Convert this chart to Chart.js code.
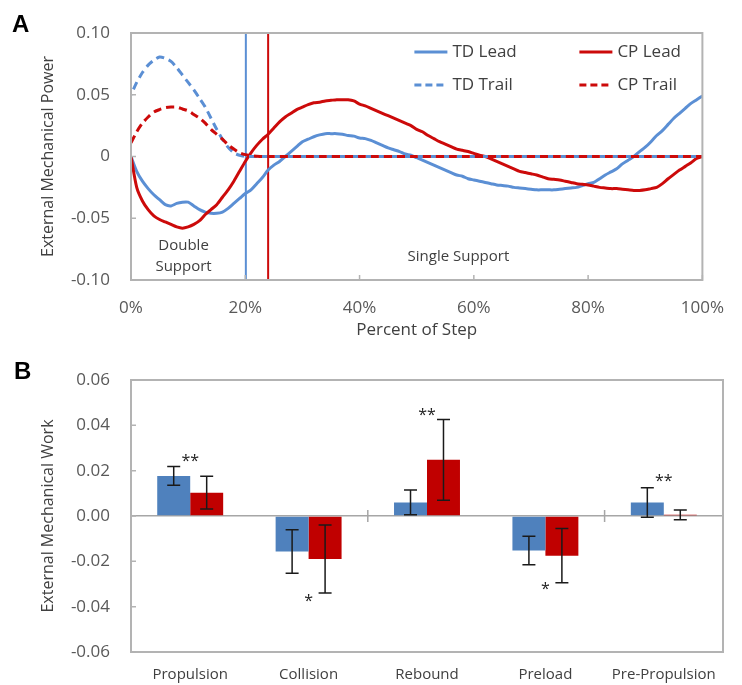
<!DOCTYPE html>
<html>
<head>
<meta charset="utf-8">
<title>External mechanical power and work</title>
<script src="https://cdn.jsdelivr.net/npm/chart.js@4.4.1/dist/chart.umd.min.js"></script>
<style>
  html, body { margin: 0; padding: 0; background: #fff; }
  #wrap { position: relative; width: 742px; height: 685px; overflow: hidden; }
  .panel { position: absolute; left: 0; width: 742px; }
  #pa { top: 0; height: 340px; }
  #pb { top: 340px; height: 345px; }
  .tag { position: absolute; font: bold 24px "Liberation Sans", Arial, sans-serif; line-height: 24px; color: #000; }
</style>
</head>
<body>
<div id="wrap">
  <div class="panel" id="pa"><canvas id="powerChart" width="742" height="340"></canvas></div>
  <div class="panel" id="pb"><canvas id="workChart" width="742" height="345"></canvas></div>
  <div class="tag" style="left:12px; top:12px;">A</div>
  <div class="tag" style="left:14px; top:359px;">B</div>
</div>
<script>
// ---------- Panel A: external mechanical power over the step ----------
const stepPercent = [
  0,1,2,3,4,5,6,7,8,9,10,11,12,13,14,15,16,17,18,19,20,
  21,22,23,24,25,26,27,28,29,30,31,32,33,34,35,36,37,38,39,40,
  41,42,43,44,45,46,47,48,49,50,51,52,53,54,55,56,57,58,59,60,
  61,62,63,64,65,66,67,68,69,70,71,72,73,74,75,76,77,78,79,80,
  81,82,83,84,85,86,87,88,89,90,91,92,93,94,95,96,97,98,99,100
];

const tdLead = [
  0,-0.012,-0.020,-0.026,-0.031,-0.035,-0.039,-0.040,-0.038,-0.037,-0.037,
  -0.040,-0.043,-0.045,-0.046,-0.046,-0.045,-0.042,-0.038,-0.034,-0.030,
  -0.027,-0.022,-0.017,-0.011,-0.007,-0.004,0.000,0.004,0.008,0.012,
  0.014,0.016,0.0175,0.0185,0.0185,0.0185,0.018,0.017,0.0165,0.015,
  0.0145,0.013,0.011,0.009,0.007,0.0055,0.004,0.002,0.001,-0.001,
  -0.003,-0.005,-0.007,-0.009,-0.011,-0.013,-0.015,-0.016,-0.018,-0.019,
  -0.020,-0.021,-0.022,-0.023,-0.0235,-0.024,-0.025,-0.0255,-0.026,-0.0265,
  -0.027,-0.027,-0.027,-0.027,-0.0265,-0.026,-0.0255,-0.025,-0.0235,-0.022,
  -0.021,-0.018,-0.015,-0.0125,-0.010,-0.006,-0.003,0.000,0.004,0.0075,
  0.012,0.017,0.021,0.026,0.031,0.035,0.039,0.043,0.046,0.049
];

const cpLead = [
  0,-0.025,-0.036,-0.043,-0.048,-0.051,-0.053,-0.055,-0.057,-0.058,-0.057,
  -0.055,-0.052,-0.047,-0.043,-0.039,-0.033,-0.027,-0.020,-0.012,-0.004,
  0.003,0.009,0.014,0.018,0.023,0.028,0.032,0.035,0.038,0.040,
  0.042,0.0435,0.044,0.045,0.0455,0.046,0.046,0.046,0.045,0.0425,
  0.041,0.039,0.037,0.035,0.033,0.031,0.029,0.027,0.025,0.022,
  0.020,0.017,0.0145,0.012,0.010,0.008,0.006,0.005,0.004,0.0025,
  0.001,0.000,-0.002,-0.004,-0.006,-0.008,-0.010,-0.012,-0.013,-0.014,
  -0.015,-0.0165,-0.018,-0.0185,-0.019,-0.020,-0.021,-0.022,-0.0225,-0.023,
  -0.024,-0.025,-0.0255,-0.026,-0.026,-0.0265,-0.027,-0.0275,-0.0275,-0.027,
  -0.026,-0.025,-0.022,-0.018,-0.0145,-0.011,-0.008,-0.005,-0.0015,0
];

const tdTrail = [
  0.050,0.060,0.068,0.074,0.078,0.0805,0.0795,0.077,0.072,0.066,0.060,
  0.054,0.047,0.040,0.031,0.022,0.014,0.0075,0.003,0.001,0,
  0,0,0,0,0,0,0,0,0,0,
  0,0,0,0,0,0,0,0,0,0,
  0,0,0,0,0,0,0,0,0,0,
  0,0,0,0,0,0,0,0,0,0,
  0,0,0,0,0,0,0,0,0,0,
  0,0,0,0,0,0,0,0,0,0,
  0,0,0,0,0,0,0,0,0,0,
  0,0,0,0,0,0,0,0,0,0
];

const cpTrail = [
  0.011,0.020,0.027,0.032,0.036,0.038,0.0395,0.040,0.040,0.0385,0.037,
  0.034,0.031,0.027,0.022,0.018,0.014,0.0095,0.006,0.003,0.0015,
  0.0007,0.0003,0,0,0,0,0,0,0,0,
  0,0,0,0,0,0,0,0,0,0,
  0,0,0,0,0,0,0,0,0,0,
  0,0,0,0,0,0,0,0,0,0,
  0,0,0,0,0,0,0,0,0,0,
  0,0,0,0,0,0,0,0,0,0,
  0,0,0,0,0,0,0,0,0,0,
  0,0,0,0,0,0,0,0,0,0
];

// end of double support (percent of step) for TD and CP
const supportEnd = [20.1, 24.0];

// ---------- Panel B: external mechanical work per phase ----------
const phases = ['Propulsion', 'Collision', 'Rebound', 'Preload', 'Pre-Propulsion'];
const tdWork = [0.0177, -0.0157, 0.0060, -0.0152, 0.0060];
const tdErr  = [0.0041, 0.0096, 0.0055, 0.0063, 0.0065];
const cpWork = [0.0103, -0.0190, 0.0248, -0.0175, 0.0005];
const cpErr  = [0.0072, 0.0150, 0.0178, 0.0120, 0.0021];
const sigMarks = ['**', '*', '**', '*', '**'];
const sigLevel = [0.0257, -0.0360, 0.0460, -0.0310, 0.0169];

// ---------- shared look ----------
const BLUE_LINE = '#5B8FD4';
const RED_LINE = '#CC0A0A';
const BLUE_BAR = '#4F81BD';
const RED_BAR = '#C00000';
const FRAME = '#B3B3B3';
const TEXT = '#595959';
const FAMILY = "'Open Sans', 'DejaVu Sans', sans-serif";
const DASH = [8, 5];

Chart.defaults.font.family = FAMILY;
Chart.defaults.color = TEXT;

const toPoints = (ys) => stepPercent.map((x, i) => ({ x: x, y: ys[i] }));

// frame around the plot area with short inward tick marks
function framePlugin(id, opts) {
  return {
    id: id,
    afterDraw(chart) {
      const { ctx, chartArea: a, scales } = chart;
      ctx.save();
      ctx.strokeStyle = FRAME;
      ctx.lineWidth = 2;
      ctx.strokeRect(a.left, a.top, a.right - a.left, a.bottom - a.top);
      ctx.lineWidth = 1.5;
      ctx.beginPath();
      scales.y.ticks.forEach(t => {
        const y = scales.y.getPixelForValue(t.value);
        ctx.moveTo(a.left, y);
        ctx.lineTo(a.left + 5, y);
      });
      if (opts.xTicks) {
        scales.x.ticks.forEach(t => {
          const x = scales.x.getPixelForValue(t.value);
          ctx.moveTo(x, a.bottom);
          ctx.lineTo(x, a.bottom - 5);
        });
      }
      ctx.stroke();
      ctx.restore();
    }
  };
}

const supportLinesPlugin = {
  id: 'supportLines',
  beforeDatasetsDraw(chart) {
    const { ctx, chartArea: a, scales } = chart;
    const colors = [BLUE_LINE, RED_LINE];
    ctx.save();
    ctx.lineWidth = 2;
    supportEnd.forEach((v, i) => {
      const x = scales.x.getPixelForValue(v);
      ctx.strokeStyle = colors[i];
      ctx.beginPath();
      ctx.moveTo(x, a.top);
      ctx.lineTo(x, a.bottom);
      ctx.stroke();
    });
    ctx.restore();
  }
};

// shift the TD Trail dash pattern so its dashes show through the CP Trail gaps
// where both trail curves run along zero
const dashPhasePlugin = {
  id: 'dashPhase',
  afterUpdate(chart) {
    try {
      const blue = chart.getDatasetMeta(2);
      const red = chart.getDatasetMeta(3);
      const stop = stepPercent.indexOf(40);
      const pathLen = pts => {
        let L = 0;
        for (let i = 1; i <= stop; i++) L += Math.hypot(pts[i].x - pts[i - 1].x, pts[i].y - pts[i - 1].y);
        return L;
      };
      const period = DASH[0] + DASH[1];
      const pr = pathLen(red.data) % period;
      const lb = pathLen(blue.data);
      const off = (((pr - DASH[0] - lb) % period) + period) % period;
      blue.dataset.options.borderDashOffset = off;
    } catch (e) { /* keep default phase */ }
  }
};

const phaseTextPlugin = {
  id: 'phaseText',
  afterDatasetsDraw(chart) {
    const { ctx, scales } = chart;
    const notes = [
      { x: 9.2, y: -0.0721, text: 'Double' },
      { x: 9.2, y: -0.0891, text: 'Support' },
      { x: 57.3, y: -0.0810, text: 'Single Support' }
    ];
    ctx.save();
    ctx.font = '15px ' + FAMILY;
    ctx.fillStyle = '#404040';
    ctx.textAlign = 'center';
    ctx.textBaseline = 'middle';
    notes.forEach(n => ctx.fillText(n.text, scales.x.getPixelForValue(n.x), scales.y.getPixelForValue(n.y)));
    ctx.restore();
  }
};

const insideLegendPlugin = {
  id: 'insideLegend',
  afterDraw(chart) {
    const { ctx, chartArea: a } = chart;
    const colX = [a.right - 288, a.right - 123];
    const rowY = [a.top + 19, a.top + 52];
    ctx.save();
    ctx.font = '17px ' + FAMILY;
    ctx.textBaseline = 'middle';
    ctx.textAlign = 'left';
    chart.data.datasets.forEach((ds, i) => {
      const x = colX[i % 2];
      const y = rowY[Math.floor(i / 2)];
      ctx.strokeStyle = ds.borderColor;
      ctx.lineWidth = 3;
      ctx.setLineDash(ds.borderDash && ds.borderDash.length ? [7, 4] : []);
      ctx.beginPath();
      ctx.moveTo(x, y);
      ctx.lineTo(x + 33, y);
      ctx.stroke();
      ctx.setLineDash([]);
      ctx.fillStyle = '#404040';
      ctx.fillText(ds.label, x + 38, y);
    });
    ctx.restore();
  }
};

new Chart(document.getElementById('powerChart'), {
  type: 'line',
  data: {
    datasets: [
      { label: 'TD Lead', data: toPoints(tdLead), borderColor: BLUE_LINE, borderWidth: 3, order: 3 },
      { label: 'CP Lead', data: toPoints(cpLead), borderColor: RED_LINE, borderWidth: 3, order: 2 },
      { label: 'TD Trail', data: toPoints(tdTrail), borderColor: BLUE_LINE, borderWidth: 3, borderDash: DASH, order: 1 },
      { label: 'CP Trail', data: toPoints(cpTrail), borderColor: RED_LINE, borderWidth: 3, borderDash: DASH, order: 0 }
    ]
  },
  options: {
    responsive: false,
    animation: false,
    layout: { padding: { top: 33, right: 25, left: 0, bottom: 0 } },
    elements: { point: { radius: 0 }, line: { tension: 0.25, borderCapStyle: 'butt' } },
    plugins: { legend: { display: false }, tooltip: { enabled: false } },
    scales: {
      x: {
        type: 'linear', min: 0, max: 100,
        ticks: { stepSize: 20, padding: 18, font: { size: 17 }, color: TEXT, callback: v => v + '%' },
        grid: { display: false, drawTicks: false },
        border: { display: false },
        title: { display: true, text: 'Percent of Step', font: { size: 17 }, color: '#404040', padding: { top: 0, bottom: 0 } },
        afterFit(s) { s.height = 60; }
      },
      y: {
        min: -0.1, max: 0.1,
        ticks: { stepSize: 0.05, padding: 21, font: { size: 17 }, color: TEXT,
          callback: v => Math.abs(v) < 1e-9 ? '0' : v.toFixed(2) },
        grid: { display: false, drawTicks: false },
        border: { display: false },
        title: { display: true, text: 'External Mechanical Power', font: { size: 16 }, color: '#404040', padding: { top: 39, bottom: 0 } },
        afterFit(s) { s.width = 131; }
      }
    }
  },
  plugins: [dashPhasePlugin, supportLinesPlugin, phaseTextPlugin, framePlugin('frameA', { xTicks: true }), insideLegendPlugin]
});

// ---------- Panel B chart ----------
const errorBarPlugin = {
  id: 'errorBars',
  afterDatasetsDraw(chart) {
    const { ctx, scales } = chart;
    ctx.save();
    ctx.strokeStyle = '#1a1a1a';
    ctx.lineWidth = 1.5;
    chart.data.datasets.forEach((ds, d) => {
      const meta = chart.getDatasetMeta(d);
      meta.data.forEach((bar, i) => {
        const v = ds.data[i];
        const e = ds.errors[i];
        const yTop = scales.y.getPixelForValue(v + e);
        const yBot = scales.y.getPixelForValue(v - e);
        const x = bar.x;
        ctx.beginPath();
        ctx.moveTo(x, yTop); ctx.lineTo(x, yBot);
        ctx.moveTo(x - 6.5, yTop); ctx.lineTo(x + 6.5, yTop);
        ctx.moveTo(x - 6.5, yBot); ctx.lineTo(x + 6.5, yBot);
        ctx.stroke();
      });
    });
    ctx.restore();
  }
};

const significancePlugin = {
  id: 'significance',
  afterDatasetsDraw(chart) {
    const { ctx, scales } = chart;
    ctx.save();
    ctx.font = '16px ' + FAMILY;
    ctx.fillStyle = '#222';
    ctx.textAlign = 'center';
    ctx.textBaseline = 'alphabetic';
    sigMarks.forEach((m, i) => {
      const mt = ctx.measureText(m);
      const shift = (mt.actualBoundingBoxAscent - mt.actualBoundingBoxDescent) / 2;
      ctx.fillText(m, scales.x.getPixelForValue(i), scales.y.getPixelForValue(sigLevel[i]) + shift);
    });
    ctx.restore();
  }
};

// small marks across the zero line between every second pair of phases
const zeroMarksPlugin = {
  id: 'zeroMarks',
  afterDatasetsDraw(chart) {
    const { ctx, scales } = chart;
    const y0 = scales.y.getPixelForValue(0);
    ctx.save();
    ctx.strokeStyle = '#A6A6A6';
    ctx.lineWidth = 1.5;
    ctx.beginPath();
    for (let i = 1; i < phases.length - 1; i += 2) {
      const x = (scales.x.getPixelForValue(i) + scales.x.getPixelForValue(i + 1)) / 2;
      ctx.moveTo(x, y0 - 6);
      ctx.lineTo(x, y0 + 6);
    }
    ctx.stroke();
    ctx.restore();
  }
};

new Chart(document.getElementById('workChart'), {
  type: 'bar',
  data: {
    labels: phases,
    datasets: [
      { label: 'TD', data: tdWork, errors: tdErr, backgroundColor: BLUE_BAR },
      { label: 'CP', data: cpWork, errors: cpErr, backgroundColor: RED_BAR }
    ]
  },
  options: {
    responsive: false,
    animation: false,
    layout: { padding: { top: 40, right: 19, left: 0, bottom: 0 } },
    datasets: { bar: { categoryPercentage: 0.557, barPercentage: 1.0 } },
    plugins: { legend: { display: false }, tooltip: { enabled: false } },
    scales: {
      x: {
        ticks: { padding: 14, font: { size: 15 }, color: '#404040' },
        grid: { display: false, drawTicks: false },
        border: { display: false },
        afterFit(s) { s.height = 33; }
      },
      y: {
        min: -0.06, max: 0.06,
        ticks: { stepSize: 0.02, padding: 21, font: { size: 17 }, color: TEXT, callback: v => v.toFixed(2) },
        grid: {
          drawTicks: false,
          lineWidth: 1.5,
          color: c => (c.tick && Math.abs(c.tick.value) < 1e-9) ? '#A6A6A6' : 'rgba(0,0,0,0)'
        },
        border: { display: false },
        title: { display: true, text: 'External Mechanical Work', font: { size: 16 }, color: '#404040', padding: { top: 39, bottom: 0 } },
        afterFit(s) { s.width = 131; }
      }
    }
  },
  plugins: [zeroMarksPlugin, errorBarPlugin, significancePlugin, framePlugin('frameB', { xTicks: false })]
});
</script>
</body>
</html>
